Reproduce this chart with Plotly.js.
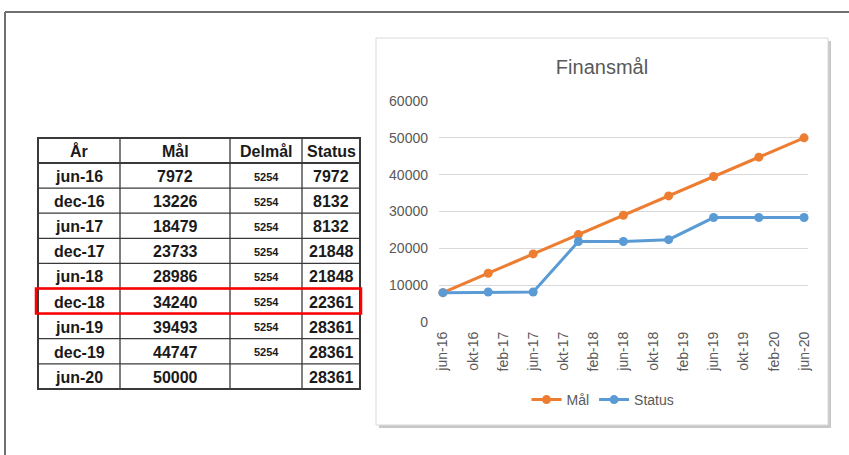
<!DOCTYPE html>
<html>
<head>
<meta charset="utf-8">
<script src="https://cdn.plot.ly/plotly-3.0.1.min.js"></script>
<style>html,body{margin:0;padding:0;background:#fff;}#chart{width:849px;height:455px;}</style>
</head>
<body>
<div id="chart"></div>
<script>
const headers = ['År', 'Mål', 'Delmål', 'Status'];
const years = ['jun-16','dec-16','jun-17','dec-17','jun-18','dec-18','jun-19','dec-19','jun-20'];
const dates = ['2016-06-01','2016-12-01','2017-06-01','2017-12-01','2018-06-01','2018-12-01','2019-06-01','2019-12-01','2020-06-01'];
const maal = [7972, 13226, 18479, 23733, 28986, 34240, 39493, 44747, 50000];
const delmaal = [5254, 5254, 5254, 5254, 5254, 5254, 5254, 5254, ''];
const status = [7972, 8132, 8132, 21848, 21848, 22361, 28361, 28361, 28361];
const tickDates = ['2016-06-01','2016-10-01','2017-02-01','2017-06-01','2017-10-01','2018-02-01','2018-06-01','2018-10-01','2019-02-01','2019-06-01','2019-10-01','2020-02-01','2020-06-01'];
const tickLabels = ['jun-16','okt-16','feb-17','jun-17','okt-17','feb-18','jun-18','okt-18','feb-19','jun-19','okt-19','feb-20','jun-20'];
const highlightRow = 'dec-18';

const W = 849, H = 455;
const px = x => x / W;
const py = y => 1 - y / H;

// table geometry (pixels)
const colX = [38, 120, 230, 302, 360];
const tableTop = 138, headH = 25, rowH = 25.1;
const nRows = years.length;
const rowY = i => tableTop + headH + rowH * i;   // top of data row i
const tableBottom = rowY(nRows);
const columns = [years, maal, delmaal, status];
const colFontSize = [16, 16, 11, 16];
const textColor = '#1a1a1a';
const tFont = 'Liberation Sans, Arial, sans-serif';

const annotations = [];
const shapes = [];

// header texts
headers.forEach((h, c) => {
  annotations.push({
    xref: 'paper', yref: 'paper',
    x: px((colX[c] + colX[c + 1]) / 2), y: py(tableTop + headH / 2 + 1),
    xanchor: 'center', yanchor: 'middle', showarrow: false,
    text: '<b>' + h + '</b>',
    font: {family: tFont, size: 16, color: textColor}
  });
});
// cell texts
columns.forEach((col, c) => {
  col.forEach((v, r) => {
    if (v === '') return;
    annotations.push({
      xref: 'paper', yref: 'paper',
      x: px((colX[c] + colX[c + 1]) / 2), y: py(rowY(r) + rowH / 2 + 1),
      xanchor: 'center', yanchor: 'middle', showarrow: false,
      text: '<b>' + v + '</b>',
      font: {family: tFont, size: colFontSize[c], color: textColor}
    });
  });
});

// outer frame of the page
shapes.push({type: 'line', xref: 'paper', yref: 'paper', x0: px(5), x1: 1, y0: py(12), y1: py(12), line: {color: '#707070', width: 2}, layer: 'below'});
shapes.push({type: 'line', xref: 'paper', yref: 'paper', x0: px(5), x1: px(5), y0: py(12), y1: 0, line: {color: '#707070', width: 2}, layer: 'below'});
// chart box with shadow
shapes.push({type: 'rect', xref: 'paper', yref: 'paper', x0: px(379), x1: px(831), y0: py(428), y1: py(41), fillcolor: '#c8c8c8', line: {width: 0}, layer: 'below'});
shapes.push({type: 'rect', xref: 'paper', yref: 'paper', x0: px(376), x1: px(828), y0: py(425), y1: py(38), fillcolor: '#ffffff', line: {color: '#d9d9d9', width: 1}, layer: 'below'});

// table grid: horizontal lines
for (let r = 0; r < nRows; r++) {
  const y = rowY(r);
  shapes.push({type: 'line', xref: 'paper', yref: 'paper', x0: px(colX[0]), x1: px(colX[4]), y0: py(y), y1: py(y),
    line: {color: '#3a3a3a', width: r === 0 ? 2 : 1.3}, layer: 'below'});
}
// vertical inner lines
for (let c = 1; c < 4; c++) {
  shapes.push({type: 'line', xref: 'paper', yref: 'paper', x0: px(colX[c]), x1: px(colX[c]), y0: py(tableTop), y1: py(tableBottom),
    line: {color: '#3a3a3a', width: 1.3}, layer: 'below'});
}
// outer border
shapes.push({type: 'rect', xref: 'paper', yref: 'paper', x0: px(colX[0]), x1: px(colX[4]), y0: py(tableBottom), y1: py(tableTop),
  line: {color: '#3a3a3a', width: 2}, layer: 'below'});
// red highlight
const hi = years.indexOf(highlightRow);
shapes.push({type: 'rect', xref: 'paper', yref: 'paper', x0: px(36), x1: px(361), y0: py(rowY(hi + 1)), y1: py(rowY(hi)),
  line: {color: '#ff0000', width: 2.5}, layer: 'above'});

const traces = [
  {
    type: 'scatter', mode: 'lines+markers', name: 'Mål',
    x: dates, y: maal,
    line: {color: '#ED7D31', width: 3},
    marker: {color: '#ED7D31', size: 9},
    cliponaxis: false
  },
  {
    type: 'scatter', mode: 'lines+markers', name: 'Status',
    x: dates, y: status,
    line: {color: '#5B9BD5', width: 3},
    marker: {color: '#5B9BD5', size: 9},
    cliponaxis: false
  }
];

const layout = {
  width: W, height: H,
  margin: {l: 0, r: 0, t: 0, b: 0},
  paper_bgcolor: '#ffffff',
  plot_bgcolor: 'rgba(0,0,0,0)',
  font: {family: tFont, color: '#595959'},
  title: {
    text: 'Finansmål',
    x: px(602), xanchor: 'center', xref: 'paper',
    y: py(67), yanchor: 'middle', yref: 'paper',
    font: {size: 20, color: '#595959'}
  },
  xaxis: {
    type: 'date',
    domain: [px(439), px(808)],
    range: ['2016-05-16', '2020-06-17'],
    tickmode: 'array', tickvals: tickDates, ticktext: tickLabels,
    tickangle: -90,
    tickfont: {size: 14, color: '#595959'},
    showgrid: false, zeroline: false, showline: false,
    ticks: '', ticklabelstandoff: 6,
    fixedrange: true
  },
  yaxis: {
    domain: [py(322), py(101)],
    range: [0, 60000],
    tickvals: [0, 10000, 20000, 30000, 40000, 50000, 60000],
    tickformat: 'd',
    tickfont: {size: 14, color: '#595959'},
    gridcolor: '#d9d9d9', gridwidth: 1,
    zeroline: false, showline: false,
    ticks: '', ticklabelstandoff: 10,
    fixedrange: true
  },
  showlegend: true,
  legend: {
    orientation: 'h',
    x: px(603), xanchor: 'center',
    y: py(400), yanchor: 'middle',
    font: {size: 14, color: '#595959'},
    bgcolor: 'rgba(0,0,0,0)'
  },
  annotations: annotations,
  shapes: shapes
};

Plotly.newPlot('chart', traces, layout, {displayModeBar: false, staticPlot: true});
</script>
</body>
</html>
